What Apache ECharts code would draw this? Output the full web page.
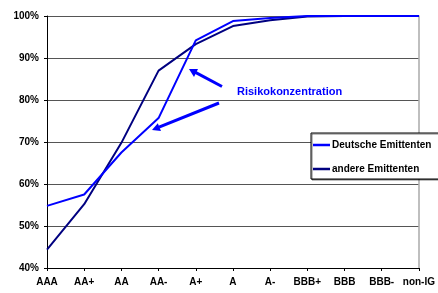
<!DOCTYPE html>
<html>
<head>
<meta charset="utf-8">
<script src="https://cdn.jsdelivr.net/npm/echarts@6/dist/echarts.min.js"></script>
<style>
html, body { margin: 0; padding: 0; background: #fff; }
#container { width: 438px; height: 293px; }
</style>
</head>
<body>
<div id="container"></div>
<script>
var ratings = ['AAA', 'AA+', 'AA', 'AA-', 'A+', 'A', 'A-', 'BBB+', 'BBB', 'BBB-', 'non-IG'];
var deutsche = [54.8, 57.5, 67.5, 75.7, 94.2, 98.8, 99.5, 100, 100, 100, 100];
var andere = [44.4, 55.2, 69.8, 87.0, 93.3, 97.6, 99.0, 99.9, 100, 100, 100];

var dom = document.getElementById('container');
var myChart = echarts.init(dom);
var font = 'Liberation Sans, Arial, sans-serif';

var option = {
    animation: false,
    grid: { left: 47, right: 15, top: 16, bottom: 25 },
    xAxis: [{
        type: 'category',
        data: ratings,
        boundaryGap: false,
        axisLine: { lineStyle: { color: '#000', width: 1 } },
        axisTick: { show: true, length: 3, lineStyle: { color: '#000' } },
        axisLabel: { color: '#000', fontFamily: font, fontSize: 10, fontWeight: 'bold', margin: 9, interval: 0 },
        splitLine: { show: false }
    }],
    yAxis: [{
        type: 'value',
        min: 40,
        max: 100,
        interval: 10,
        axisLine: { show: true, lineStyle: { color: '#000', width: 1 } },
        axisTick: { show: true, length: 3, lineStyle: { color: '#000' } },
        axisLabel: { formatter: '{value}%', color: '#000', fontFamily: font, fontSize: 10, fontWeight: 'bold', margin: 8 },
        splitLine: { show: true, lineStyle: { color: '#555', width: 1 } }
    }, {
        type: 'value',
        position: 'right',
        min: 40,
        max: 100,
        interval: 10,
        axisLine: { show: true, lineStyle: { color: '#aaa', width: 1.5 } },
        axisTick: { show: false },
        axisLabel: { show: false },
        splitLine: { show: false }
    }],
    legend: {
        orient: 'vertical',
        left: 311,
        top: 133,
        data: ['Deutsche Emittenten', 'andere Emittenten'],
        icon: 'rect',
        itemWidth: 17,
        itemHeight: 2.5,
        itemGap: 14,
        padding: [7, 8, 5, 2],
        backgroundColor: '#fff',
        borderColor: '#000',
        borderWidth: 1,
        shadowColor: 'rgba(0,0,0,0.5)',
        shadowOffsetX: 1,
        shadowOffsetY: 1,
        textStyle: { color: '#000', fontFamily: font, fontSize: 10, fontWeight: 'bold', padding: [0, 0, 0, -3] }
    },
    graphic: [
        {
            type: 'text',
            left: 237,
            top: 86,
            style: { text: 'Risikokonzentration', fill: '#0000ff', font: 'bold 11px Liberation Sans, Arial, sans-serif' }
        },
        { type: 'line', shape: { x1: 222, y1: 86.5, x2: 195, y2: 72.2 }, style: { stroke: '#0000ff', lineWidth: 3 } },
        { type: 'polygon', shape: { points: [[189, 69], [198, 69], [194, 77]] }, style: { fill: '#0000ff' } },
        { type: 'line', shape: { x1: 219, y1: 103, x2: 159, y2: 127.2 }, style: { stroke: '#0000ff', lineWidth: 3 } },
        { type: 'polygon', shape: { points: [[152, 130], [157.8, 123.3], [161, 131]] }, style: { fill: '#0000ff' } }
    ],
    series: [{
        name: 'Deutsche Emittenten',
        type: 'line',
        data: deutsche,
        showSymbol: false,
        symbol: 'none',
        z: 3,
        lineStyle: { color: '#0000ff', width: 2 },
        itemStyle: { color: '#0000ff' }
    }, {
        name: 'andere Emittenten',
        type: 'line',
        data: andere,
        showSymbol: false,
        symbol: 'none',
        z: 2,
        lineStyle: { color: '#000080', width: 2 },
        itemStyle: { color: '#000080' }
    }]
};

if (option && typeof option === 'object') {
    myChart.setOption(option, true);
}
</script>
</body>
</html>
